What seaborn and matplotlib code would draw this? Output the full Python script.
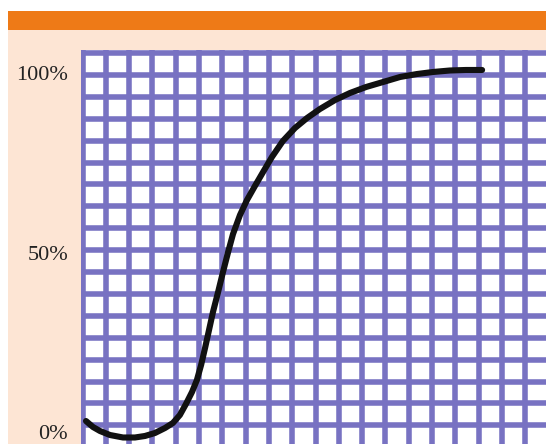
import numpy as np
import pandas as pd
import matplotlib
matplotlib.use("Agg")
import matplotlib.pyplot as plt
import seaborn as sns
from matplotlib.patches import Rectangle

# curve: x in grid cells, y in percent
curve_x = [0.15, 0.45, 0.75, 1.18, 1.74, 2.25, 2.68, 3.11, 3.54, 3.88, 4.18,
           4.44, 4.70, 4.91, 5.09, 5.26, 5.43, 5.60, 5.82, 6.03, 6.25, 6.46,
           6.76, 7.06, 7.40, 7.75, 8.13, 8.60, 9.12, 9.64, 10.19, 10.84,
           11.48, 12.17, 12.90, 13.63, 14.36, 15.04, 15.77, 16.46, 17.15]
curve_y = [3.06, 1.39, 0.28, -0.84, -1.53, -1.53, -1.11, -0.28, 1.11, 2.51,
           4.74, 7.80, 11.14, 14.48, 18.66, 23.40, 28.41, 33.43, 39.00, 44.57,
           50.14, 55.15, 60.45, 64.62, 68.52, 72.42, 76.60, 81.06, 84.68,
           87.47, 89.97, 92.48, 94.43, 96.10, 97.49, 98.89, 99.72, 100.28,
           100.70, 100.84, 100.84]
y_ticks = [0, 50, 100]
y_labels = ["0%", "50%", "100%"]

W, H = 546, 444
ORANGE = "#ee7a17"
CREAM = "#fde5d4"
GRID = "#7872c2"


# pixel helpers for layout
def px_to_pct(py):
    return (432 - py) / 3.59


def px_to_cell(px):
    return (px - 82.5) / 23.3


sns.set_style("white")
plt.rcParams["font.family"] = ["Liberation Serif", "DejaVu Serif"]

fig = plt.figure(figsize=(W / 100, H / 100), dpi=100)
fig.patch.set_facecolor("white")
fig.add_artist(Rectangle((8 / W, 0), 1, (H - 30) / H, transform=fig.transFigure,
                         facecolor=CREAM, edgecolor="none", zorder=0))
fig.add_artist(Rectangle((8 / W, (H - 30) / H), 1, 19 / H, transform=fig.transFigure,
                         facecolor=ORANGE, edgecolor="none", zorder=0))

ax_left, ax_top = 80.5, 50.5
ax = fig.add_axes([ax_left / W, 0, (W - ax_left) / W, (H - ax_top) / H])
ax.set_facecolor("white")

df = pd.DataFrame({"x": curve_x, "y": curve_y})
sns.lineplot(data=df, x="x", y="y", ax=ax, color="#111111", lw=4.4,
             sort=False, solid_capstyle="round", solid_joinstyle="round", zorder=3)

ax.set_xlim(px_to_cell(ax_left), px_to_cell(W))
ax.set_ylim(px_to_pct(H), px_to_pct(ax_top))

# cell grid
ax.set_xticks(np.arange(0, 20), minor=True)
ax.set_yticks([px_to_pct(53 + 21.9 * k) for k in range(18)], minor=True)
ax.grid(which="minor", color=GRID, lw=4.0)
ax.grid(which="major", visible=False)
ax.set_axisbelow(True)

ax.set_xticks([])
ax.set_yticks(y_ticks)
ax.set_yticklabels(y_labels, fontsize=16, color="#222222")
ax.tick_params(which="both", length=0, pad=9)
ax.set_xlabel("")
ax.set_ylabel("")
for s in ax.spines.values():
    s.set_visible(False)

fig.savefig("out.png", dpi=100)
